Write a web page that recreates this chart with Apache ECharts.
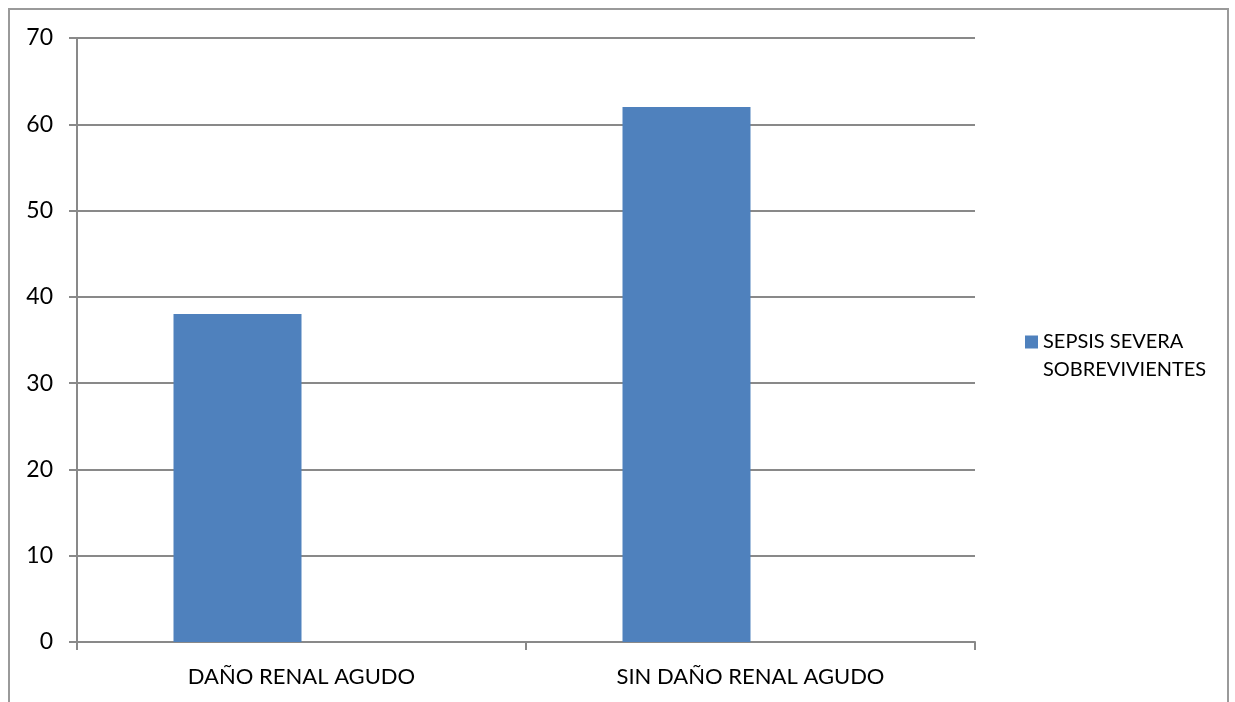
<!DOCTYPE html>
<html>
<head>
<meta charset="utf-8">
<script src="https://cdn.jsdelivr.net/npm/echarts@6/dist/echarts.min.js"></script>
<style>
  html, body { margin: 0; padding: 0; background: #fff; }
  #main { width: 1235px; height: 702px; }
</style>
</head>
<body>
<div id="main"></div>
<script>
// datos
var categorias = ['DAÑO RENAL AGUDO', 'SIN DAÑO RENAL AGUDO']
var sobrevivientes = [38, 62]
// la segunda serie esta vacia en el original, solo ocupa el hueco a la derecha
var serieVacia = [null, null]
var nombreSerie = 'SEPSIS SEVERA SOBREVIVIENTES'

var myChart = echarts.init(document.getElementById('main'))
var gris = '#898989'
var fuente = 'Lato, "Open Sans", sans-serif'

var option = {
  animation: false,
  backgroundColor: '#fff',
  // marco exterior (sin borde inferior)
  graphic: [{
    type: 'polyline',
    shape: { points: [[9, 702], [9, 9], [1228, 9], [1228, 702]] },
    style: { stroke: '#9a9a9a', lineWidth: 2, fill: null }
  }],
  grid: { left: 77, right: 260, top: 38, bottom: 60 },
  legend: {
    data: [nombreSerie],
    left: 1020,
    top: 295,
    orient: 'vertical',
    itemWidth: 13,
    itemHeight: 13,
    icon: 'rect',
    // linea vacia arriba para que el cuadro quede junto a la primera linea
    formatter: function () { return ' \nSEPSIS SEVERA\nSOBREVIVIENTES' },
    textStyle: {
      fontFamily: fuente,
      fontSize: 20,
      color: '#000',
      lineHeight: 28
    }
  },
  xAxis: {
    type: 'category',
    data: categorias,
    axisLine: { lineStyle: { color: gris, width: 2 } },
    axisTick: { show: true, length: 8, lineStyle: { color: gris, width: 2 } },
    axisLabel: { color: '#000', fontFamily: fuente, fontSize: 22, margin: 24 }
  },
  yAxis: {
    type: 'value',
    min: 0,
    max: 70,
    interval: 10,
    axisLine: { show: true, lineStyle: { color: gris, width: 2 } },
    axisTick: { show: true, length: 8, lineStyle: { color: gris, width: 2 } },
    axisLabel: { color: '#000', fontFamily: fuente, fontSize: 23, margin: 24 },
    splitLine: { lineStyle: { color: gris, width: 2 } }
  },
  series: [
    {
      name: nombreSerie,
      type: 'bar',
      data: sobrevivientes,
      barWidth: 128,
      barGap: 0,
      itemStyle: { color: '#4F81BD' }
    },
    {
      name: 'vacia',
      type: 'bar',
      data: serieVacia,
      barWidth: 128,
      barGap: 0,
      itemStyle: { color: '#C0504D' }
    }
  ]
}
myChart.setOption(option)
</script>
</body>
</html>
